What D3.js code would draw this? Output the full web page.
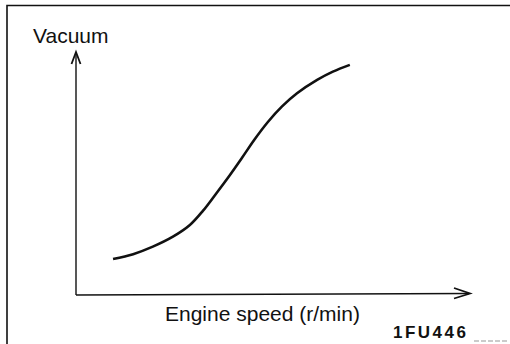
<!DOCTYPE html>
<html>
<head>
<meta charset="utf-8">
<script src="https://cdn.jsdelivr.net/npm/d3@7/dist/d3.min.js"></script>
<style>
  html, body { margin: 0; padding: 0; background: #fff; }
  svg { display: block; }
  text { font-family: "Liberation Sans", Arial, Helvetica, sans-serif; fill: #111; }
</style>
</head>
<body>
<svg id="chart" width="510" height="344"></svg>
<script>
// Engine speed (relative units) and matching vacuum (relative units)
const engineSpeed = [9.4, 14.5, 19.5, 24.6, 28.9, 32.2, 35.5, 38.8, 42.1, 45.4, 48.7, 52.3, 56.1, 61.2, 65.2, 69.5];
const vacuum      = [14.8, 16.8, 19.9, 24.0, 28.8, 34.6, 41.6, 48.8, 56.4, 64.2, 71.2, 77.6, 83.0, 88.5, 91.9, 94.7];
const axisTitles  = ["Engine speed (r/min)", "Vacuum"];
const figureCode  = ["1FU446"];

const svg = d3.select("#chart");
const ink = "#111";

const x = d3.scaleLinear().domain([0, 100]).range([76, 470]);
const y = d3.scaleLinear().domain([0, 100]).range([295, 52]);

// Frame: top and left edges
svg.append("path")
  .attr("d", "M7,344 L7,5.5 L510,5.5")
  .attr("fill", "none").attr("stroke", ink).attr("stroke-width", 1.6);

// Axes
svg.append("line")
  .attr("x1", x(0)).attr("y1", y(0)).attr("x2", x(0)).attr("y2", y(100) + 1)
  .attr("stroke", ink).attr("stroke-width", 1.4);
svg.append("line")
  .attr("x1", x(0)).attr("y1", y(0)).attr("x2", x(100) - 1).attr("y2", y(0) - 1.5)
  .attr("stroke", ink).attr("stroke-width", 1.6);

// Arrowheads
svg.append("path")
  .attr("d", `M${x(0) - 4.5},${y(100) + 12} L${x(0)},${y(100)} L${x(0) + 4.5},${y(100) + 12}`)
  .attr("fill", "none").attr("stroke", ink).attr("stroke-width", 1.8).attr("stroke-linejoin", "miter");
svg.append("path")
  .attr("d", `M${x(100) - 16},${y(0) - 7} L${x(100)},${y(0) - 1.5} L${x(100) - 16},${y(0) + 3.5}`)
  .attr("fill", "none").attr("stroke", ink).attr("stroke-width", 1.8).attr("stroke-linejoin", "miter");

// Vacuum curve
const line = d3.line()
  .x((d, i) => x(engineSpeed[i]))
  .y(d => y(d))
  .curve(d3.curveCatmullRom.alpha(0.5));

svg.append("path")
  .datum(vacuum)
  .attr("d", line)
  .attr("fill", "none")
  .attr("stroke", ink)
  .attr("stroke-width", 2.6)
  .attr("stroke-linecap", "butt");

// Titles
svg.append("text")
  .attr("x", 33).attr("y", 43)
  .attr("font-size", 21)
  .text(axisTitles[1]);

svg.append("text")
  .attr("x", 165).attr("y", 321)
  .attr("font-size", 21)
  .text(axisTitles[0]);

svg.append("text")
  .attr("x", 393).attr("y", 338)
  .attr("font-size", 17)
  .attr("font-weight", "bold")
  .attr("letter-spacing", 2.5)
  .text(figureCode[0]);

// faint rule after the code
svg.append("line")
  .attr("x1", 474).attr("y1", 341).attr("x2", 508).attr("y2", 341)
  .attr("stroke", "#bbb").attr("stroke-width", 1.5).attr("stroke-dasharray", "5,2");
</script>
</body>
</html>
